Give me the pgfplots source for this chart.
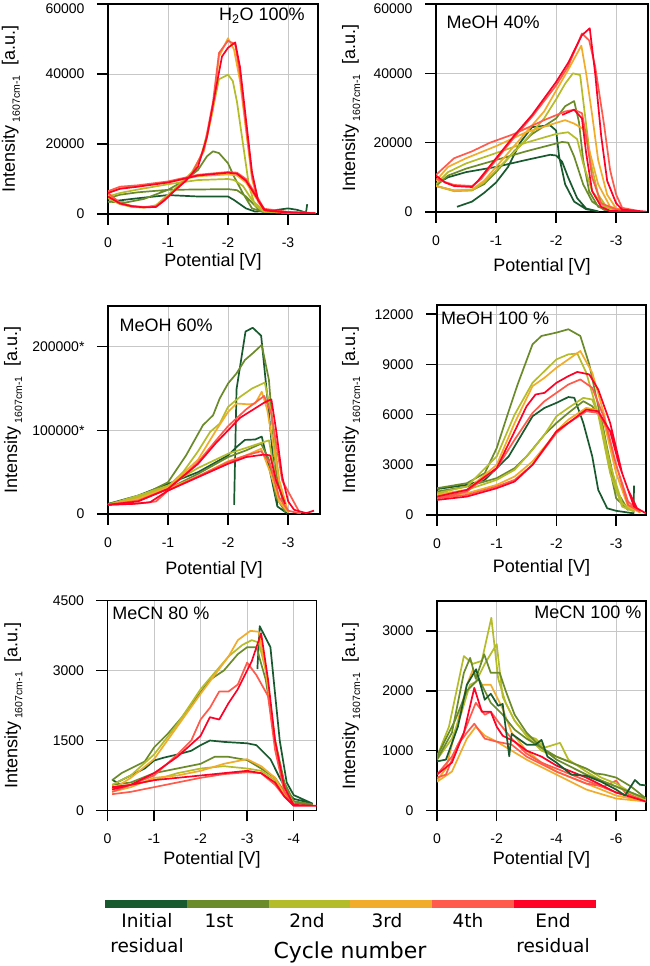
\documentclass[border=0pt]{standalone}
\usepackage{pgfplots}
\pgfplotsset{compat=1.18}
\usepackage{fontspec}
\setmainfont{Liberation Sans}
\newfontfamily\djv{DejaVu Sans}
\definecolor{c0}{RGB}{24,90,46}
\definecolor{c1}{RGB}{107,139,43}
\definecolor{c2}{RGB}{181,188,42}
\definecolor{c3}{RGB}{240,172,42}
\definecolor{c4}{RGB}{255,90,76}
\definecolor{c5}{RGB}{255,0,38}
\pgfplotsset{
  panel/.style={
    scale only axis, anchor=south west, x dir=reverse, ymin=0, xmax=0,
    axis line style={line width=1.5pt},
    grid=major, grid style={line width=0.7pt, color=black!22},
    tick align=outside, major tick length=11pt,
    every tick/.style={line width=1.5pt, black},
    xtick pos=bottom, ytick pos=left,
    tick label style={font=\fontsize{14}{16}\selectfont},
    xlabel={Potential [V]},
    ylabel={Intensity\,\raisebox{-5pt}{\fontsize{10.5}{12}\selectfont 1607cm-1}\ \ [a.u.]},
    every axis y label/.style={rotate=90, anchor=base, font=\fontsize{18}{20}\selectfont},
    every axis x label/.style={anchor=base, font=\fontsize{18}{20}\selectfont},
    scaled y ticks=false, scaled x ticks=false,
    every axis plot/.append style={line width=1.7pt, line join=round, no markers},
    yticklabel style={xshift=-9pt},
    xticklabel style={yshift=-9pt},
  },
  k0/.style={c0}, k1/.style={c1}, k2/.style={c2}, k3/.style={c3}, k4/.style={c4}, k5/.style={c5},
}
\newcommand{\toplab}[1]{\raisebox{-10pt}[0pt][0pt]{#1}}
\begin{document}
\begin{tikzpicture}[x=1pt,y=1pt]
\useasboundingbox (0,0) rectangle (649,966);

% ---------- Panel 1: H2O 100%
\begin{axis}[panel, at={(108pt,752pt)}, width=210pt, height=210pt,
  xmin=-3.5, ymax=60000,
  xtick={0,-1,-2,-3}, xticklabels={0,-1,-2,-3},
  ytick={0,20000,40000,60000}, yticklabels={0,20000,40000,\toplab{60000}},
  ylabel style={at={(axis description cs:-0.443,0.5)}},
  xlabel style={at={(axis description cs:0.5,-0.248)}}]
\addplot[k0] coordinates {(0,3500) (-0.5,4500) (-1.0,5400) (-1.5,5000) (-2.0,5000) (-2.1,4000) (-2.3,1600) (-2.45,700) (-2.7,900) (-3.0,1600) (-3.15,1200) (-3.3,400) (-3.32,2800)};
\addplot[k1] coordinates {(0,3500) (-0.3,3300) (-0.6,4300) (-1.0,6900) (-1.3,9800) (-1.5,12600) (-1.65,16500) (-1.75,17900) (-1.85,17400) (-2.0,14500) (-2.1,10700) (-2.25,5900) (-2.4,1600) (-2.6,500) (-2.5,1500) (-2.3,5000) (-2.15,6800) (-2.0,7100) (-1.5,7000) (-1.0,6900) (-0.5,6200) (-0.2,5500) (0,4500)};
\addplot[k2] coordinates {(0,4500) (-0.2,2800) (-0.4,2000) (-0.6,1800) (-0.8,2500) (-1.0,5500) (-1.2,8500) (-1.4,12000) (-1.55,16500) (-1.7,26000) (-1.85,38500) (-2.0,39800) (-2.08,38000) (-2.15,32000) (-2.25,20000) (-2.35,8000) (-2.45,2500) (-2.6,600) (-3.0,300) (-3.45,200) (-3.0,400) (-2.6,800) (-2.4,4000) (-2.25,8000) (-2.1,9700) (-2.0,10000) (-1.5,9700) (-1.0,8500) (-0.5,7000) (-0.2,6000) (0,5000)};
\addplot[k3] coordinates {(0,5500) (-0.2,3000) (-0.4,2200) (-0.6,1900) (-0.8,2300) (-1.0,5000) (-1.2,8000) (-1.4,11500) (-1.6,18000) (-1.75,30000) (-1.85,45000) (-2.0,50200) (-2.1,47000) (-2.2,38000) (-2.3,24000) (-2.4,10000) (-2.5,3500) (-2.6,1000) (-3.0,400) (-3.45,250) (-3.0,500) (-2.6,1200) (-2.45,5000) (-2.3,9000) (-2.15,11000) (-2.0,11300) (-1.5,10800) (-1.0,9000) (-0.5,8000) (-0.2,7300) (0,6000)};
\addplot[k4] coordinates {(0,6000) (-0.2,3200) (-0.4,2300) (-0.6,2000) (-0.8,2200) (-1.0,5000) (-1.2,8200) (-1.4,11500) (-1.6,18500) (-1.75,32000) (-1.85,46000) (-2.0,49500) (-2.12,48500) (-2.2,40000) (-2.3,25000) (-2.4,11000) (-2.5,4000) (-2.6,1200) (-3.0,500) (-3.45,250) (-3.0,600) (-2.6,1500) (-2.45,6000) (-2.3,10000) (-2.15,11800) (-2.0,12000) (-1.5,11200) (-1.0,9300) (-0.5,8200) (-0.2,7800) (0,6500)};
\addplot[k5] coordinates {(0,5000) (-0.2,3000) (-0.4,2200) (-0.6,1900) (-0.8,2000) (-0.95,4000) (-1.1,6500) (-1.3,9500) (-1.5,13500) (-1.65,22000) (-1.8,36000) (-1.9,45000) (-2.0,47500) (-2.12,49000) (-2.2,42000) (-2.3,27000) (-2.4,12000) (-2.5,4000) (-2.62,1000) (-3.0,400) (-3.45,200) (-3.0,500) (-2.6,1200) (-2.45,5500) (-2.3,9500) (-2.15,11500) (-2.0,11800) (-1.5,11000) (-1.0,9000) (-0.5,7800) (-0.2,7200) (0,6000)};
\node[anchor=center, font=\fontsize{18}{20}\selectfont] at (axis description cs:0.733,0.943) {H\textsubscript{2}O 100\%};
\end{axis}

% ---------- Panel 2: MeOH 40%
\begin{axis}[panel, at={(436pt,754pt)}, width=212pt, height=208pt,
  xmin=-3.53, ymax=60000,
  xtick={0,-1,-2,-3}, xticklabels={0,-1,-2,-3},
  ytick={0,20000,40000,60000}, yticklabels={0,20000,40000,\toplab{60000}},
  ylabel style={at={(axis description cs:-0.382,0.5)}},
  xlabel style={at={(axis description cs:0.5,-0.284)}}]
\addplot[k0] coordinates {(-0.35,1500) (-0.6,3000) (-0.8,5500) (-1.0,8500) (-1.2,13000) (-1.4,20000) (-1.6,24500) (-1.9,25000) (-2.0,23500) (-2.05,16000) (-2.15,8000) (-2.3,3000) (-2.5,800) (-2.7,200) (-2.5,1000) (-2.35,4000) (-2.2,10000) (-2.1,14500) (-2.0,16300) (-1.9,16500) (-1.5,15000) (-1.0,13000) (-0.5,11500) (-0.2,10000) (0,8000)};
\addplot[k1] coordinates {(0,7500) (-0.3,6200) (-0.6,6300) (-0.8,8000) (-1.0,11500) (-1.3,17500) (-1.6,22500) (-2.0,27000) (-2.15,30500) (-2.3,32000) (-2.38,26000) (-2.45,15000) (-2.55,6000) (-2.7,1500) (-2.9,300) (-3.1,100) (-2.8,600) (-2.6,3000) (-2.45,8000) (-2.3,16000) (-2.2,20000) (-2.1,20200) (-1.5,17500) (-1.0,15000) (-0.5,12500) (-0.2,10500) (0,7500)};
\addplot[k2] coordinates {(0,7500) (-0.3,6000) (-0.6,6200) (-0.8,8500) (-1.0,12000) (-1.4,19000) (-1.8,27000) (-2.0,32500) (-2.15,37000) (-2.28,40000) (-2.4,39500) (-2.48,28000) (-2.58,14000) (-2.7,5000) (-2.85,1200) (-3.1,200) (-2.8,1500) (-2.6,6000) (-2.45,14000) (-2.35,21000) (-2.2,23000) (-2.0,22500) (-1.5,20000) (-1.0,17000) (-0.5,14000) (-0.2,11500) (0,8000)};
\addplot[k3] coordinates {(0,7500) (-0.3,6200) (-0.6,6500) (-0.8,9000) (-1.0,13000) (-1.4,21000) (-1.8,29000) (-2.0,35000) (-2.2,41000) (-2.42,48000) (-2.5,40000) (-2.6,28000) (-2.7,15000) (-2.85,5000) (-3.0,1000) (-3.2,200) (-2.9,1500) (-2.7,8000) (-2.55,18000) (-2.45,24000) (-2.3,25500) (-2.15,26500) (-1.5,23000) (-1.0,19000) (-0.5,15500) (-0.2,13000) (0,9000)};
\addplot[k4] coordinates {(0,9500) (-0.3,7800) (-0.6,7500) (-0.75,9500) (-1.0,15000) (-1.3,21500) (-1.6,27500) (-2.0,36500) (-2.2,42000) (-2.43,51500) (-2.55,49500) (-2.65,42000) (-2.8,25000) (-2.9,12000) (-3.0,5000) (-3.1,1200) (-3.4,200) (-3.0,800) (-2.75,2500) (-2.6,10000) (-2.5,22000) (-2.43,28500) (-2.3,29500) (-2.15,29000) (-1.8,26500) (-1.3,22500) (-0.9,20000) (-0.6,17500) (-0.3,15500) (0,10700)};
\addplot[k5] coordinates {(0,10500) (-0.15,8500) (-0.3,7500) (-0.6,7200) (-0.7,9000) (-1.0,15500) (-1.3,22000) (-1.6,28000) (-2.0,37500) (-2.2,43000) (-2.43,51000) (-2.56,53000) (-2.65,40000) (-2.75,22000) (-2.85,9000) (-3.0,2500) (-3.1,700) (-3.5,100) (-2.9,300) (-2.75,1500) (-2.6,6000) (-2.5,17000) (-2.43,27000) (-2.3,29500) (-2.1,28000)};
\node[anchor=center, font=\fontsize{18}{20}\selectfont] at (axis description cs:0.269,0.913) {MeOH 40\%};
\end{axis}

% ---------- Panel 3: MeOH 60%
\begin{axis}[panel, at={(108pt,452pt)}, width=212pt, height=208pt,
  xmin=-3.53, ymax=248500,
  xtick={0,-1,-2,-3}, xticklabels={0,-1,-2,-3},
  ytick={0,100000,200000}, yticklabels={0,100000*,200000*},
  ylabel style={at={(axis description cs:-0.429,0.5)}},
  xlabel style={at={(axis description cs:0.5,-0.293)}}]
\addplot[k0] coordinates {(0,12000) (-0.5,22000) (-1.0,36000) (-1.5,50000) (-2.0,70000) (-2.14,80000) (-2.28,88500) (-2.45,89000) (-2.56,92500) (-2.7,50000) (-2.82,9000) (-2.98,1000) (-2.82,9000) (-2.68,120000) (-2.55,213000) (-2.41,222500) (-2.29,218000) (-2.14,149000) (-2.1,11000)};
\addplot[k1] coordinates {(0,11000) (-0.5,16000) (-1.0,30000) (-1.5,48000) (-2.0,68000) (-2.3,76000) (-2.55,84000) (-2.68,65000) (-2.8,20000) (-2.95,3000) (-2.8,48000) (-2.68,160000) (-2.56,202000) (-2.41,192000) (-2.28,184000) (-2.14,168000) (-2.0,156000) (-1.86,138000) (-1.75,118000) (-1.58,106000) (-1.3,70000) (-1.0,38000) (-0.5,20000) (0,12000)};
\addplot[k2] coordinates {(0,11000) (-0.5,22000) (-1.0,34000) (-1.5,55000) (-2.0,72000) (-2.3,79000) (-2.68,88000) (-2.75,60000) (-2.85,15000) (-3.0,2000) (-2.85,40000) (-2.72,120000) (-2.61,157000) (-2.4,150000) (-2.2,140000) (-2.0,128000) (-1.86,108000) (-1.7,98000) (-1.5,75000) (-1.25,50000) (-1.0,33000) (-0.5,20000) (0,11000)};
\addplot[k3] coordinates {(0,11000) (-0.5,17000) (-1.0,30000) (-1.5,45000) (-2.0,63000) (-2.3,70000) (-2.55,78000) (-2.7,50000) (-2.85,15000) (-3.0,2000) (-2.85,40000) (-2.65,125000) (-2.56,146000) (-2.45,132000) (-2.35,131000) (-2.14,132000) (-2.0,122000) (-1.8,100000) (-1.5,65000) (-1.2,45000) (-1.0,32000) (-0.5,18000) (0,11000)};
\addplot[k4] coordinates {(0,11000) (-0.5,12500) (-0.8,15000) (-1.0,28000) (-1.5,45000) (-2.0,62000) (-2.3,70000) (-2.55,75000) (-2.7,60000) (-2.85,20000) (-3.0,4000) (-3.2,500) (-2.9,40000) (-2.72,120000) (-2.6,141000) (-2.3,125000) (-2.0,105000) (-1.8,88000) (-1.5,62000) (-1.2,42000) (-1.0,30000) (-0.5,16000) (0,11000)};
\addplot[k5] coordinates {(0,11000) (-0.4,12000) (-0.7,14000) (-1.0,28000) (-1.5,44000) (-2.0,60000) (-2.3,68000) (-2.6,71000) (-2.7,70000) (-2.8,40000) (-2.95,12000)};
\addplot[k5] coordinates {(0,11000) (-0.5,15000) (-1.0,30000) (-1.5,60000) (-1.8,85000) (-2.0,100000) (-2.2,115000) (-2.4,124000) (-2.6,133000) (-2.72,137000) (-2.8,100000) (-2.9,45000) (-3.0,15000) (-3.1,5000) (-3.3,1000) (-3.43,4000)};
\node[anchor=center, font=\fontsize{18}{20}\selectfont] at (axis description cs:0.274,0.909) {MeOH 60\%};
\end{axis}

% ---------- Panel 4: MeOH 100 %
\begin{axis}[panel, at={(437pt,451pt)}, width=209pt, height=210pt,
  xmin=-3.5, ymax=12550,
  xtick={0,-1,-2,-3}, xticklabels={0,-1,-2,-3},
  ytick={0,3000,6000,9000,12000}, yticklabels={0,3000,6000,9000,12000},
  ylabel style={at={(axis description cs:-0.392,0.5)}},
  xlabel style={at={(axis description cs:0.5,-0.276)}}]
\addplot[k0] coordinates {(0,1550) (-0.5,1800) (-0.8,2100) (-1.0,2800) (-1.2,3500) (-1.4,4700) (-1.6,5900) (-1.8,6400) (-2.0,6700) (-2.2,7050) (-2.3,7000) (-2.45,5500) (-2.6,3500) (-2.7,1500) (-2.85,400) (-3.0,250) (-3.29,100) (-3.3,1750)};
\addplot[k1] coordinates {(0,1400) (-0.5,1700) (-1.0,2200) (-1.3,2800) (-1.5,3500) (-1.8,4800) (-2.0,5500) (-2.2,6100) (-2.45,6800) (-2.6,6500) (-2.75,5800) (-2.85,4000) (-3.0,1500) (-3.2,300) (-3.0,1000) (-2.85,3500) (-2.7,6500) (-2.55,9000) (-2.4,10700) (-2.2,11100) (-2.0,10900) (-1.75,10700) (-1.6,10200) (-1.35,7800) (-1.2,6200) (-1.0,4000) (-0.8,2500) (-0.5,1900) (0,1600)};
\addplot[k2] coordinates {(0,1200) (-0.5,1500) (-1.0,2100) (-1.3,2700) (-1.6,3900) (-1.8,4800) (-2.0,5900) (-2.2,6400) (-2.45,7000) (-2.6,6900) (-2.75,5500) (-2.9,3000) (-3.1,700) (-3.3,200) (-3.1,500) (-2.9,2500) (-2.7,6000) (-2.5,8500) (-2.35,9650) (-2.2,9600) (-2.0,9300) (-1.8,8600) (-1.6,7900) (-1.3,6000) (-1.0,3500) (-0.5,1700) (0,1300)};
\addplot[k3] coordinates {(0,1100) (-0.5,1300) (-1.0,1800) (-1.3,2300) (-1.6,3200) (-1.9,4500) (-2.0,5000) (-2.2,5700) (-2.5,6400) (-2.65,6300) (-2.8,5500) (-3.0,2500) (-3.2,600) (-3.4,150) (-3.2,500) (-3.0,2500) (-2.8,6000) (-2.6,8500) (-2.4,9800) (-2.2,9300) (-2.0,8800) (-1.8,8200) (-1.6,7700) (-1.3,5500) (-1.0,3000) (-0.5,1500) (0,1200)};
\addplot[k4] coordinates {(0,1000) (-0.5,1200) (-1.0,1700) (-1.3,2100) (-1.6,3000) (-2.0,4900) (-2.2,5500) (-2.5,6200) (-2.7,6100) (-2.85,5200) (-3.0,3000) (-3.2,800) (-3.4,200) (-3.2,600) (-3.0,3000) (-2.8,5800) (-2.6,7600) (-2.4,8100) (-2.2,7800) (-2.0,7300) (-1.8,6800) (-1.6,6100) (-1.3,4500) (-1.0,2800) (-0.5,1400) (0,1000)};
\addplot[k5] coordinates {(0,900) (-0.5,1100) (-1.0,1600) (-1.3,2000) (-1.6,3000) (-2.0,5000) (-2.2,5500) (-2.5,6300) (-2.7,6200) (-2.9,5000) (-3.05,3000) (-3.2,1500) (-3.35,400) (-3.5,100) (-3.3,500) (-3.1,2500) (-2.9,5500) (-2.7,7500) (-2.55,8400) (-2.35,8550) (-2.2,8300) (-2.0,7900) (-1.8,7300) (-1.65,7200) (-1.5,6500) (-1.3,5000) (-1.0,2800) (-0.5,1500) (0,1100)};
\node[anchor=center, font=\fontsize{18}{20}\selectfont] at (axis description cs:0.278,0.938) {MeOH 100 \%};
\end{axis}

% ---------- Panel 5: MeCN 80 %
\begin{axis}[panel, at={(107.5pt,155.5pt)}, width=209pt, height=210pt,
  xmin=-4.49, ymax=4500,
  xtick={0,-1,-2,-3,-4}, xticklabels={0,-1,-2,-3,-4},
  ytick={0,1500,3000,4500}, yticklabels={0,1500,3000,4500},
  ylabel style={at={(axis description cs:-0.431,0.5)}},
  xlabel style={at={(axis description cs:0.5,-0.257)}}]
\addplot[k0] coordinates {(-0.1,660) (-0.2,600) (-0.5,750) (-0.8,900) (-1.0,1070) (-1.2,1130) (-1.5,1200) (-1.8,1280) (-2.0,1400) (-2.2,1500) (-2.5,1470) (-3.0,1440) (-3.2,1400) (-3.5,1100) (-3.7,700) (-3.9,350) (-4.0,250) (-4.4,150) (-4.0,330) (-3.85,600) (-3.7,1500) (-3.5,3500) (-3.27,3950) (-3.22,3030)};
\addplot[k1] coordinates {(-0.1,650) (-0.3,800) (-0.5,900) (-0.8,1050) (-1.0,1350) (-1.3,1650) (-1.6,2000) (-1.9,2400) (-2.2,2800) (-2.5,3000) (-2.8,3350) (-3.0,3500) (-3.2,3500) (-3.4,2800) (-3.6,1500) (-3.8,600) (-4.0,200) (-4.4,130) (-4.0,150) (-3.8,400) (-3.6,700) (-3.3,900) (-3.0,1080) (-2.6,1150) (-2.3,1150) (-2.0,1000) (-1.5,900) (-1.0,800) (-0.5,600) (-0.1,550)};
\addplot[k2] coordinates {(-0.1,550) (-0.5,750) (-1.0,1200) (-1.5,1850) (-2.0,2600) (-2.3,2950) (-2.6,3300) (-2.9,3550) (-3.1,3650) (-3.25,3600) (-3.4,3000) (-3.6,1500) (-3.8,500) (-4.0,150) (-3.8,350) (-3.6,650) (-3.3,850) (-3.0,900) (-2.5,950) (-2.0,900) (-1.5,800) (-1.0,650) (-0.5,550) (-0.1,500)};
\addplot[k3] coordinates {(-0.1,450) (-0.5,700) (-1.0,1100) (-1.5,1800) (-2.0,2500) (-2.3,2900) (-2.6,3300) (-2.8,3650) (-3.07,3850) (-3.25,3830) (-3.4,3000) (-3.6,1500) (-3.8,400) (-4.0,120) (-3.8,350) (-3.6,700) (-3.3,950) (-3.0,1100) (-2.5,1000) (-2.0,850) (-1.5,750) (-1.0,700) (-0.5,500) (-0.1,400)};
\addplot[k4] coordinates {(-0.1,400) (-0.5,550) (-1.0,750) (-1.5,1200) (-1.8,1500) (-2.0,1950) (-2.2,2200) (-2.4,2550) (-2.6,2550) (-2.8,2700) (-3.0,3170) (-3.2,2900) (-3.45,2450) (-3.6,1300) (-3.8,400) (-4.0,120) (-3.8,300) (-3.6,550) (-3.3,800) (-3.0,820) (-2.5,780) (-2.0,700) (-1.5,600) (-1.0,500) (-0.5,400) (-0.1,350)};
\addplot[k5] coordinates {(-0.1,450) (-0.5,550) (-1.0,800) (-1.5,1150) (-2.0,1600) (-2.2,2000) (-2.4,1950) (-2.6,2300) (-2.8,2600) (-3.0,3000) (-3.1,3200) (-3.3,3800) (-3.45,2800) (-3.6,1500) (-3.8,500) (-4.0,120) (-4.5,100) (-4.0,100) (-3.8,300) (-3.6,600) (-3.3,800) (-3.0,850) (-2.5,800) (-2.0,750) (-1.5,700) (-1.0,650) (-0.5,550) (-0.1,500)};
\node[anchor=center, font=\fontsize{18}{20}\selectfont] at (axis description cs:0.256,0.941) {MeCN 80 \%};
\end{axis}

% ---------- Panel 6: MeCN 100 %
\begin{axis}[panel, at={(437pt,155.5pt)}, width=209pt, height=209.5pt,
  xmin=-7, ymax=3500,
  xtick={0,-2,-4,-6}, xticklabels={0,-2,-4,-6},
  ytick={0,1000,2000,3000}, yticklabels={0,1000,2000,3000},
  ylabel style={at={(axis description cs:-0.392,0.5)}},
  xlabel style={at={(axis description cs:0.5,-0.258)}}]
\addplot[k3] coordinates {(0,480) (-0.5,650) (-1.0,1200) (-1.3,1400) (-1.6,1250) (-2.0,1150) (-2.5,1000) (-3.0,850) (-4.0,600) (-5.0,350) (-6.0,200) (-7.0,150)};
\addplot[k3] coordinates {(0,500) (-0.3,700) (-0.7,1500) (-1.0,2100) (-1.2,2350) (-1.5,2100) (-1.8,2100) (-2.2,1700) (-2.5,1300) (-3.0,1000) (-3.5,800) (-4.0,650) (-5.0,450) (-6.0,250) (-7.0,150)};
\addplot[k4] coordinates {(0,550) (-0.3,600) (-0.7,1100) (-1.0,1300) (-1.25,1450) (-1.6,1200) (-2.0,1150) (-2.5,1100) (-3.0,900) (-4.0,650) (-5.0,450) (-5.6,400) (-6.0,500) (-6.3,300) (-7.0,150)};
\addplot[k4] coordinates {(0,600) (-0.5,900) (-0.9,1300) (-1.3,1800) (-1.6,1600) (-1.8,1650) (-2.1,1450) (-2.5,1200) (-3.0,950) (-3.5,800) (-4.0,700) (-5.0,500) (-6.0,300) (-7.0,180)};
\addplot[k5] coordinates {(0,600) (-0.5,800) (-0.9,1300) (-1.25,2050) (-1.5,1650) (-1.8,1650) (-2.0,1400) (-2.2,1250) (-2.6,1150) (-3.0,1000) (-3.5,900) (-4.0,750) (-5.0,550) (-6.0,300) (-7.0,150)};
\addplot[k2] coordinates {(0,900) (-0.4,1400) (-0.9,2580) (-1.2,2450) (-1.5,2500) (-1.82,3220) (-2.05,2200) (-2.3,1800) (-2.6,1500) (-3.0,1250) (-3.5,1000) (-4.0,900) (-4.5,800) (-5.0,700) (-5.5,550) (-6.0,450) (-6.5,300) (-7.0,200)};
\addplot[k2] coordinates {(0,850) (-0.5,1200) (-0.8,1600) (-1.1,2100) (-1.3,2150) (-1.6,2450) (-2.0,2780) (-2.2,1900) (-2.6,1500) (-3.0,1250) (-3.3,1200) (-3.6,1050) (-4.12,1130) (-4.4,850) (-5.0,650) (-5.5,500) (-6.0,400) (-7.0,180)};
\addplot[k1] coordinates {(0,850) (-0.5,1300) (-0.9,2300) (-1.11,2550) (-1.3,2200) (-1.58,2610) (-1.8,2300) (-2.1,2300) (-2.3,2000) (-2.6,1600) (-3.0,1300) (-3.5,1050) (-4.0,900) (-4.5,800) (-5.0,700) (-5.3,620) (-5.6,600) (-6.0,550) (-6.5,400) (-7.0,200)};
\addplot[k1] coordinates {(0,900) (-0.6,1500) (-1.0,2000) (-1.4,2200) (-1.8,1800) (-2.2,1600) (-2.6,1350) (-3.0,1200) (-3.5,1050) (-4.0,850) (-5.0,600) (-6.0,400) (-7.0,200)};
\addplot[k0] coordinates {(0,820) (-0.3,850) (-0.7,1400) (-1.0,2100) (-1.31,2360) (-1.6,1850) (-1.8,1950) (-2.05,1750) (-2.2,1780) (-2.42,905) (-2.5,1280) (-3.0,1100) (-3.3,1100) (-3.5,1180) (-3.7,900) (-4.0,800) (-4.5,600) (-5.0,580) (-5.5,480) (-6.0,350) (-6.3,250) (-6.63,510) (-6.8,430) (-7.0,420)};
\node[anchor=center, font=\fontsize{18}{20}\selectfont] at (axis description cs:0.722,0.946) {MeCN 100 \%};
\end{axis}

% ---------- colour key
\fill[c0] (105,58) rectangle (187,66);
\fill[c1] (187,58) rectangle (269,66);
\fill[c2] (269,58) rectangle (350,66);
\fill[c3] (350,58) rectangle (432,66);
\fill[c4] (432,58) rectangle (514,66);
\fill[c5] (514,58) rectangle (596,66);
\begin{scope}[every node/.style={anchor=base, inner sep=0pt, font=\djv\fontsize{18.5}{20}\selectfont}]
\node at (147,38) {Initial};
\node at (147,13) {residual};
\node at (219,38) {1st};
\node at (307,38) {2nd};
\node at (387,38) {3rd};
\node at (468,38) {4th};
\node at (553,38) {End};
\node at (553,13) {residual};
\node[font=\djv\fontsize{22}{24}\selectfont] at (350,7) {Cycle number};
\end{scope}
\end{tikzpicture}
\end{document}
